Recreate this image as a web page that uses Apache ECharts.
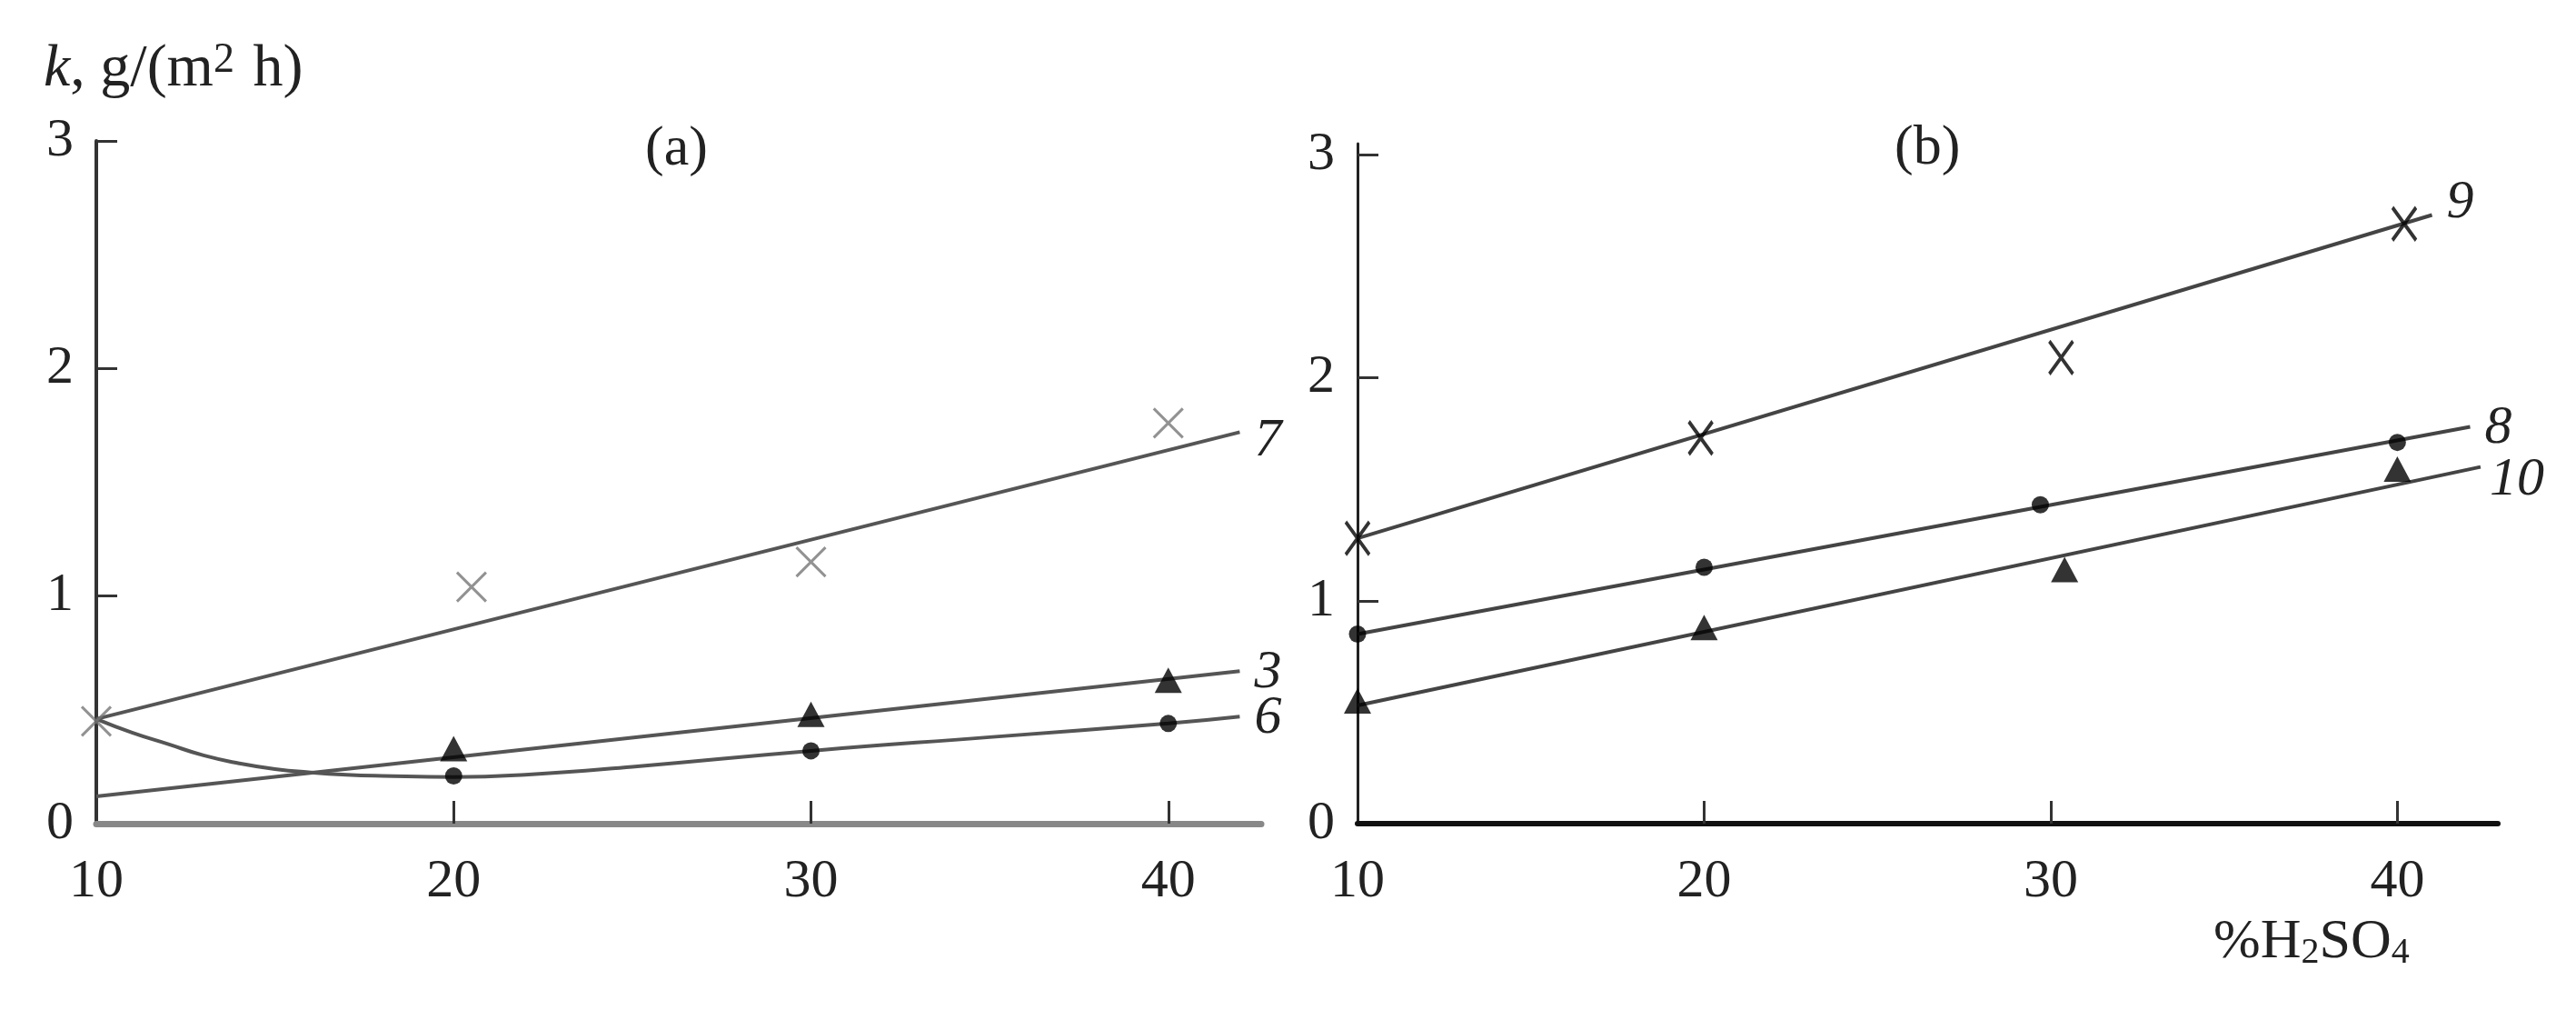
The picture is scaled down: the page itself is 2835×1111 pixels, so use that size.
<!DOCTYPE html>
<html>
<head>
<meta charset="utf-8">
<title>k vs %H2SO4</title>
<script src="https://cdn.jsdelivr.net/npm/echarts@6/dist/echarts.min.js"></script>
<style>
  html, body { margin: 0; padding: 0; background: #ffffff; }
  #chart { width: 2835px; height: 1111px; }
</style>
</head>
<body>
<div id="chart"></div>
<script>
// ---- data ----
var xTicks = [10, 20, 30, 40];
var yTicks = [0, 1, 2, 3];

// panel (a)
var a7PointX = [10, 20.5, 30, 40];
var a7PointY = [0.45, 1.04, 1.15, 1.76];
var a7LineX = [10, 42];
var a7LineY = [0.46, 1.72];

var a3PointX = [20, 30, 40];
var a3PointY = [0.33, 0.48, 0.63];
var a3LineX = [10, 42];
var a3LineY = [0.12, 0.67];

var a6PointX = [20, 30, 40];
var a6PointY = [0.21, 0.32, 0.44];
var a6LineX = [10, 11, 12, 13, 14, 15, 16, 17, 18, 20, 22, 25, 30, 35, 40, 42];
var a6LineY = [0.46, 0.40, 0.35, 0.30, 0.265, 0.24, 0.225, 0.215, 0.21, 0.205, 0.215, 0.25, 0.32, 0.38, 0.44, 0.47];

// panel (b)
var b9PointX = [10, 19.9, 30.3, 40.2];
var b9PointY = [1.28, 1.73, 2.09, 2.69];
var b9LineX = [10, 41];
var b9LineY = [1.28, 2.73];

var b8PointX = [10, 20, 29.7, 40];
var b8PointY = [0.85, 1.15, 1.43, 1.71];
var b8LineX = [10, 42.1];
var b8LineY = [0.85, 1.78];

var b10PointX = [10, 20, 30.4, 40];
var b10PointY = [0.55, 0.88, 1.14, 1.59];
var b10LineX = [10, 42.4];
var b10LineY = [0.53, 1.60];

function pairs(xs, ys) {
    return xs.map(function (x, i) { return [x, ys[i]]; });
}

var FONT = '"Liberation Serif", "Times New Roman", serif';
var TXT = '#222';
var crossPath = 'path://M0,0L10,10M10,0L0,10';

var myChart = echarts.init(document.getElementById('chart'), null, { renderer: 'canvas' });

function xAxisOf(idx, max, lineColor, lineWidth) {
    return {
        type: 'value', gridIndex: idx, min: 10, max: max,
        axisLine: { onZero: false, lineStyle: { color: lineColor, width: lineWidth } },
        axisTick: { inside: true, length: 25, customValues: [20, 30, 40], lineStyle: { color: '#333', width: 3 } },
        axisLabel: { customValues: xTicks, margin: 34, fontSize: 60, fontFamily: FONT, color: TXT },
        splitLine: { show: false }
    };
}
function yAxisOf(idx, max, lineColor, lineWidth) {
    return {
        type: 'value', gridIndex: idx, min: 0, max: max,
        axisLine: { onZero: false, lineStyle: { color: lineColor, width: lineWidth } },
        axisTick: { inside: true, length: 23, customValues: [1, 2, 3], lineStyle: { color: '#333', width: 3 } },
        axisLabel: { customValues: yTicks, margin: 25, fontSize: 60, fontFamily: FONT, color: TXT },
        splitLine: { show: false }
    };
}
function lineSeries(idx, data, color, width, label, offset, smooth) {
    return {
        type: 'line', xAxisIndex: idx, yAxisIndex: idx, data: data,
        symbol: 'none', smooth: smooth || false, z: 2,
        lineStyle: { color: color, width: width },
        endLabel: {
            show: true, formatter: label, distance: 16, offset: offset,
            fontSize: 60, fontStyle: 'italic', fontFamily: FONT, color: TXT
        },
        animation: false
    };
}
function markSeries(idx, data, symbol, size, style) {
    return {
        type: 'scatter', xAxisIndex: idx, yAxisIndex: idx, data: data,
        symbol: symbol, symbolSize: size, itemStyle: style, z: 3, animation: false
    };
}

var option = {
    backgroundColor: '#ffffff',
    animation: false,
    grid: [
        { left: 106, top: 155, width: 1282, height: 751 },
        { left: 1494, top: 158, width: 1255, height: 748 }
    ],
    xAxis: [
        xAxisOf(0, 42.6, '#888', 7),
        xAxisOf(1, 42.9, '#111', 6)
    ],
    yAxis: [
        yAxisOf(0, 3, '#333', 4),
        yAxisOf(1, 3.05, '#222', 3)
    ],
    graphic: [
        {
            type: 'text', left: 48, top: 44,
            style: {
                text: '{i|k}, g/(m{sup|2} h)',
                fontSize: 66, fontFamily: FONT, fill: TXT,
                rich: {
                    i: { fontStyle: 'italic', fontSize: 66, fontFamily: FONT, color: TXT },
                    sup: { fontSize: 46, fontFamily: FONT, color: TXT, verticalAlign: 'top', padding: [0, 4, 16, 0] }
                }
            }
        },
        {
            type: 'text', left: 710, top: 134,
            style: { text: '(a)', fontSize: 62, fontFamily: FONT, fill: TXT }
        },
        {
            type: 'text', left: 2085, top: 133,
            style: { text: '(b)', fontSize: 62, fontFamily: FONT, fill: TXT }
        },
        {
            type: 'text', left: 2436, top: 1006,
            style: {
                text: '%H{sub|2}SO{sub|4}',
                fontSize: 62, fontFamily: FONT, fill: TXT,
                rich: {
                    sub: { fontSize: 40, fontFamily: FONT, color: TXT, verticalAlign: 'bottom', padding: [16, 0, 0, 0] }
                }
            }
        }
    ],
    series: [
        // panel (a)
        lineSeries(0, pairs(a7LineX, a7LineY), '#555', 4, '7', [0, 10]),
        lineSeries(0, pairs(a3LineX, a3LineY), '#555', 4, '3', [0, 2]),
        lineSeries(0, pairs(a6LineX, a6LineY), '#555', 4, '6', [0, 2], true),
        markSeries(0, pairs(a7PointX, a7PointY), crossPath, 32,
            { color: 'transparent', borderColor: '#777', borderWidth: 3 }),
        markSeries(0, pairs(a3PointX, a3PointY), 'triangle', [30, 28], { color: '#000' }),
        markSeries(0, pairs(a6PointX, a6PointY), 'circle', 19, { color: '#000' }),
        // panel (b)
        lineSeries(1, pairs(b9LineX, b9LineY), '#444', 4, '9', [0, -13]),
        lineSeries(1, pairs(b8LineX, b8LineY), '#444', 4, '8', [0, 2]),
        lineSeries(1, pairs(b10LineX, b10LineY), '#444', 4, '10', [-6, 15]),
        markSeries(1, pairs(b9PointX, b9PointY), crossPath, [26, 36],
            { color: 'transparent', borderColor: '#000', borderWidth: 4 }),
        markSeries(1, pairs(b8PointX, b8PointY), 'circle', 19, { color: '#000' }),
        markSeries(1, pairs(b10PointX, b10PointY), 'triangle', [30, 28], { color: '#000' })
    ]
};

myChart.setOption(option);
</script>
</body>
</html>
